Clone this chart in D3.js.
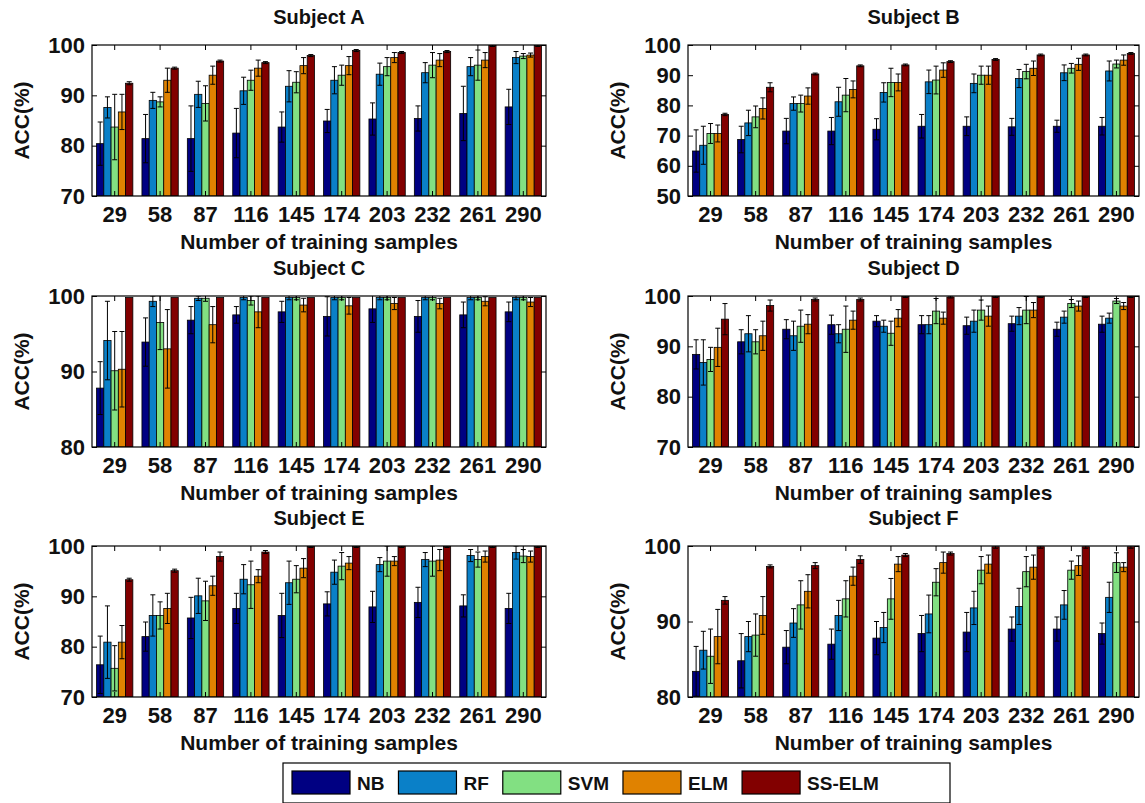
<!DOCTYPE html>
<html>
<head>
<meta charset="utf-8">
<script src="https://cdn.jsdelivr.net/npm/d3@7"></script>
<style>
  body { margin: 0; background: #fff; }
  svg { display: block; }
  text { font-family: "Liberation Sans", Arial, sans-serif; font-weight: bold; fill: #111; }
</style>
</head>
<body>
<div id="chart"></div>
<script>
// training sample counts (x categories)
const samples = [29, 58, 87, 116, 145, 174, 203, 232, 261, 290];
const methods = ["NB", "RF", "SVM", "ELM", "SS-ELM"];
const methodColors = ["#000082", "#0a80c8", "#82e082", "#e08200", "#820000"];
const panelTitles = ["Subject A", "Subject B", "Subject C", "Subject D", "Subject E", "Subject F"];
const yRanges = [[70, 100], [50, 100], [80, 100], [70, 100], [70, 100], [80, 100]];

// mean accuracy, one row per method (NB, RF, SVM, ELM, SS-ELM)
const accA = [
  [80.4, 81.4, 81.4, 82.5, 83.7, 84.9, 85.3, 85.4, 86.4, 87.7],
  [87.6, 89.0, 90.2, 90.9, 91.8, 93.0, 94.2, 94.5, 95.7, 97.5],
  [83.7, 88.7, 88.4, 93.0, 92.6, 94.0, 95.7, 96.0, 96.0, 97.8],
  [86.7, 93.0, 94.0, 95.4, 95.9, 95.9, 97.5, 97.0, 97.0, 98.0],
  [92.4, 95.4, 96.8, 96.5, 97.9, 98.9, 98.5, 98.7, 99.9, 99.9]
];
const errA = [
  [4.3, 4.8, 6.5, 4.9, 3.0, 2.3, 3.2, 2.5, 5.4, 3.5],
  [2.1, 1.6, 2.6, 2.7, 3.1, 2.7, 2.2, 2.0, 1.8, 1.2],
  [6.5, 1.0, 3.5, 2.0, 2.1, 2.0, 1.8, 2.5, 3.0, 0.5],
  [3.5, 2.4, 1.8, 1.6, 1.6, 1.8, 1.0, 1.3, 1.5, 0.4],
  [0.3, 0.2, 0.2, 0.2, 0.2, 0.2, 0.2, 0.2, 0.2, 0.2]
];

const accB = [
  [64.9, 68.7, 71.5, 71.5, 72.1, 73.1, 73.1, 72.9, 73.1, 73.1],
  [66.8, 74.2, 80.6, 81.2, 84.3, 87.8, 87.3, 88.9, 90.8, 91.4],
  [70.7, 76.2, 80.6, 83.4, 87.6, 88.4, 90.0, 91.2, 92.3, 93.7],
  [70.7, 79.0, 83.1, 85.3, 87.6, 91.7, 90.0, 92.3, 93.6, 95.0],
  [77.0, 86.0, 90.4, 93.1, 93.4, 94.5, 95.2, 96.7, 96.7, 97.2]
];
const errB = [
  [7.0, 4.4, 4.2, 4.5, 3.5, 3.9, 3.1, 2.8, 2.0, 2.9],
  [6.3, 4.2, 2.2, 4.8, 3.2, 3.9, 3.1, 3.0, 2.6, 3.3],
  [3.3, 3.6, 2.8, 5.5, 4.7, 4.6, 3.0, 2.4, 1.6, 1.3],
  [2.8, 3.5, 2.7, 2.8, 2.8, 2.4, 3.0, 2.4, 2.0, 1.7],
  [0.4, 1.5, 0.3, 0.3, 0.3, 0.3, 0.3, 0.3, 0.3, 0.3]
];

const accC = [
  [87.8, 93.9, 96.8, 97.5, 97.9, 97.3, 98.3, 97.3, 97.5, 97.9],
  [94.1, 99.3, 99.7, 99.8, 99.8, 99.8, 99.8, 99.8, 99.8, 99.8],
  [90.1, 96.5, 99.7, 99.4, 99.8, 99.8, 99.8, 99.8, 99.8, 99.8],
  [90.3, 93.0, 96.2, 97.9, 98.8, 98.7, 99.0, 99.0, 99.3, 99.2],
  [99.8, 99.8, 99.8, 99.8, 99.8, 99.8, 99.8, 99.8, 99.8, 99.8]
];
const errC = [
  [3.5, 3.2, 1.8, 1.1, 1.4, 2.6, 1.8, 2.1, 1.7, 1.3],
  [5.2, 0.7, 0.3, 0.3, 0.3, 0.3, 0.3, 0.3, 0.3, 0.3],
  [5.2, 3.6, 0.4, 0.6, 0.3, 0.3, 0.3, 0.3, 0.3, 0.3],
  [5.0, 5.2, 2.4, 2.1, 0.9, 1.1, 0.8, 0.7, 0.6, 0.6],
  [0, 0, 0, 0, 0, 0, 0, 0, 0, 0]
];

const accD = [
  [88.4, 90.9, 93.4, 94.3, 95.0, 94.3, 94.1, 94.5, 93.4, 94.4],
  [86.8, 92.5, 92.1, 92.5, 94.0, 94.3, 95.0, 96.0, 95.8, 95.6],
  [87.4, 90.9, 94.0, 93.4, 92.6, 97.0, 97.2, 97.2, 98.5, 99.0],
  [89.8, 92.1, 94.4, 95.2, 95.6, 95.6, 96.0, 97.2, 98.0, 98.0],
  [95.4, 98.1, 99.3, 99.3, 99.9, 99.8, 99.9, 99.9, 99.9, 99.9]
];
const errD = [
  [2.9, 2.4, 1.9, 1.9, 1.1, 1.8, 1.7, 1.5, 1.4, 1.6],
  [4.5, 3.6, 2.9, 1.8, 1.2, 1.8, 2.2, 1.7, 1.2, 1.0],
  [2.4, 2.4, 3.2, 4.6, 2.4, 2.5, 2.0, 2.7, 0.8, 0.5],
  [3.8, 2.9, 1.9, 1.8, 1.7, 1.2, 2.0, 1.5, 1.0, 0.7],
  [3.1, 1.1, 0.3, 0.3, 0.2, 0.2, 0.2, 0.2, 0.2, 0.2]
];

const accE = [
  [76.4, 82.0, 85.7, 87.6, 86.2, 88.5, 87.9, 88.8, 88.1, 87.6],
  [80.9, 86.2, 90.1, 93.4, 92.7, 94.8, 96.3, 97.3, 98.1, 98.7],
  [75.7, 86.2, 89.1, 92.3, 93.4, 96.0, 97.0, 97.0, 97.3, 98.0],
  [80.9, 87.6, 92.1, 94.0, 95.6, 96.6, 97.0, 97.2, 97.9, 97.9],
  [93.3, 95.1, 97.9, 98.8, 99.9, 99.9, 99.9, 99.9, 99.9, 99.9]
];
const errE = [
  [5.7, 2.9, 4.1, 3.0, 4.4, 2.4, 3.1, 3.0, 2.2, 3.0],
  [7.2, 4.1, 3.5, 2.9, 4.3, 2.4, 1.4, 1.4, 1.2, 1.3],
  [4.5, 2.7, 3.9, 4.7, 2.7, 2.7, 3.0, 3.0, 1.5, 1.3],
  [3.3, 3.0, 1.9, 1.3, 1.9, 1.3, 0.9, 2.1, 1.1, 1.1],
  [0.3, 0.3, 0.9, 0.3, 0.2, 0.2, 0.2, 0.2, 0.2, 0.2]
];

const accF = [
  [83.4, 84.8, 86.6, 87.0, 87.8, 88.4, 88.6, 89.0, 89.0, 88.4],
  [86.2, 88.0, 89.8, 90.8, 89.2, 91.0, 91.8, 92.0, 92.2, 93.2],
  [85.4, 88.2, 92.2, 93.0, 93.0, 95.2, 96.8, 96.6, 96.8, 97.8],
  [88.0, 90.8, 94.0, 96.0, 97.6, 97.8, 97.6, 97.2, 97.4, 97.2],
  [92.8, 97.3, 97.4, 98.2, 98.8, 99.0, 99.9, 99.9, 99.9, 99.9]
];
const errF = [
  [3.3, 3.6, 2.2, 2.0, 2.2, 2.4, 2.6, 1.6, 1.6, 1.4],
  [2.5, 2.0, 1.9, 2.0, 2.0, 2.5, 2.2, 2.4, 1.9, 2.0],
  [3.6, 2.8, 3.2, 2.4, 2.7, 1.8, 1.8, 2.0, 1.2, 1.3],
  [3.6, 2.5, 2.2, 1.2, 1.0, 1.4, 1.2, 1.6, 1.3, 0.6],
  [0.5, 0.2, 0.4, 0.5, 0.2, 0.2, 0.2, 0.2, 0.2, 0.2]
];

const panels = [
  { acc: accA, err: errA }, { acc: accB, err: errB },
  { acc: accC, err: errC }, { acc: accD, err: errD },
  { acc: accE, err: errE }, { acc: accF, err: errF }
];

const width = 1145;
const height = 803;

const svg = d3.select("#chart")
  .append("svg")
  .attr("width", width)
  .attr("height", height);

const cols = [[92, 546], [688, 1139]];
const rowTops = [45, 296, 546];
const plotH = 151;

panels.forEach((p, i) => {
  const [left, right] = cols[i % 2];
  const top = rowTops[Math.floor(i / 2)];
  const w = right - left;

  const g = svg.append("g").attr("transform", `translate(${left},${top})`);

  const x = d3.scaleBand().domain(samples).range([0, w]).paddingInner(0.2).paddingOuter(0.1);
  const xm = d3.scaleBand().domain(d3.range(methods.length)).range([0, x.bandwidth()]);
  const y = d3.scaleLinear().domain(yRanges[i]).range([plotH, 0]);
  const ticks = d3.range(yRanges[i][0], yRanges[i][1] + 1, 10);

  const clipId = "clip" + i;
  g.append("clipPath").attr("id", clipId)
    .append("rect").attr("width", w).attr("height", plotH);

  // flatten into bar records
  const bars = [];
  p.acc.forEach((row, m) => row.forEach((v, k) => {
    bars.push({ m: m, s: samples[k], v: v, e: p.err[m][k] });
  }));

  const plot = g.append("g").attr("clip-path", `url(#${clipId})`);

  plot.selectAll("rect.bar")
    .data(bars)
    .join("rect")
    .attr("class", "bar")
    .attr("x", d => x(d.s) + xm(d.m))
    .attr("width", xm.bandwidth())
    .attr("y", d => y(d.v))
    .attr("height", d => plotH - y(d.v))
    .attr("fill", d => methodColors[d.m])
    .attr("stroke", "#000")
    .attr("stroke-width", 0.8);

  // error bars
  const eb = plot.selectAll("g.err")
    .data(bars.filter(d => d.e > 0))
    .join("g")
    .attr("class", "err")
    .attr("transform", d => `translate(${x(d.s) + xm(d.m) + xm.bandwidth() / 2},0)`)
    .attr("stroke", "#000")
    .attr("stroke-width", 1);
  eb.append("line")
    .attr("y1", d => y(d.v - d.e)).attr("y2", d => y(d.v + d.e));
  eb.append("line")
    .attr("x1", -2.5).attr("x2", 2.5)
    .attr("y1", d => y(d.v + d.e)).attr("y2", d => y(d.v + d.e));
  eb.append("line")
    .attr("x1", -2.5).attr("x2", 2.5)
    .attr("y1", d => y(d.v - d.e)).attr("y2", d => y(d.v - d.e));

  // axes
  const yLeft = g.append("g")
    .call(d3.axisLeft(y).tickValues(ticks).tickSize(-5).tickPadding(7).tickSizeOuter(0));
  yLeft.selectAll("text").attr("font-size", "22px");

  g.append("g").attr("transform", `translate(${w},0)`)
    .call(d3.axisRight(y).tickValues(ticks).tickSize(-5).tickFormat("").tickSizeOuter(0));

  const xBottom = g.append("g").attr("transform", `translate(0,${plotH})`)
    .call(d3.axisBottom(x).tickSize(-5).tickPadding(10).tickSizeOuter(0));
  xBottom.selectAll("text").attr("font-size", "22px");

  g.append("g")
    .call(d3.axisTop(x).tickSize(-5).tickFormat("").tickSizeOuter(0));

  g.selectAll(".domain").remove();
  g.selectAll(".tick line").attr("stroke", "#000");
  g.selectAll(".tick text").attr("fill", "#111");

  g.append("rect")
    .attr("width", w).attr("height", plotH)
    .attr("fill", "none").attr("stroke", "#000").attr("stroke-width", 1.2);

  g.append("text")
    .attr("x", w / 2).attr("y", -21)
    .attr("text-anchor", "middle")
    .attr("font-size", "20px")
    .text(panelTitles[i]);

  g.append("text")
    .attr("x", w / 2).attr("y", plotH + 53)
    .attr("text-anchor", "middle")
    .attr("font-size", "21px")
    .text("Number of training samples");

  g.append("text")
    .attr("transform", `translate(-63,${plotH / 2}) rotate(-90)`)
    .attr("text-anchor", "middle")
    .attr("font-size", "21px")
    .text("ACC(%)");
});

// legend
const legend = svg.append("g");
legend.append("rect")
  .attr("x", 283).attr("y", 763).attr("width", 667).attr("height", 40)
  .attr("fill", "#fff").attr("stroke", "#000").attr("stroke-width", 1.2);

let lx = 292;
methods.forEach((name, m) => {
  legend.append("rect")
    .attr("x", lx).attr("y", 771).attr("width", 58).attr("height", 23)
    .attr("fill", methodColors[m]).attr("stroke", "#000").attr("stroke-width", 1.2);
  const t = legend.append("text")
    .attr("x", lx + 65).attr("y", 790)
    .attr("font-size", "19px")
    .text(name);
  lx += 65 + t.node().getComputedTextLength() + 14;
});
</script>
</body>
</html>
